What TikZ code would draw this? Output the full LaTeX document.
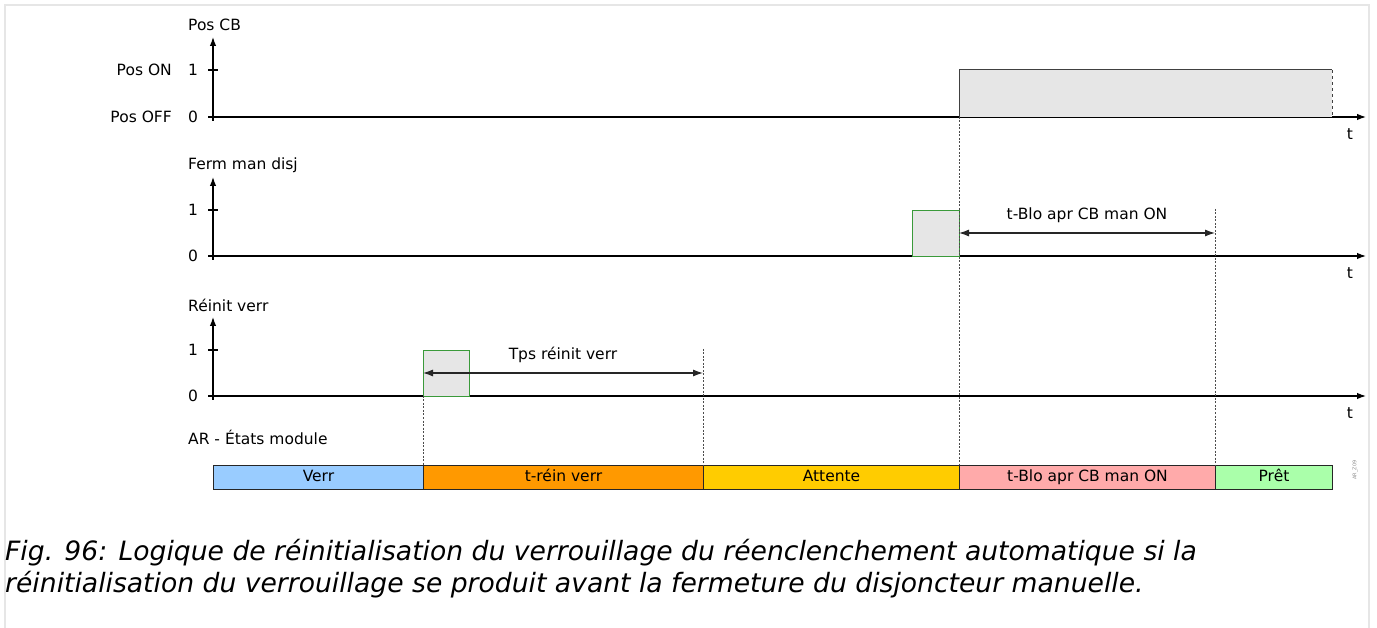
\documentclass[tikz,border=0pt]{standalone}
\usepackage{fontspec}
\setmainfont{DejaVu Sans}
\usetikzlibrary{arrows.meta}
\definecolor{framegray}{HTML}{E6E6E6}
\definecolor{fillgray}{HTML}{E6E6E6}
\definecolor{pulsegreen}{HTML}{3A9A3A}
\definecolor{cverr}{HTML}{99CCFF}
\definecolor{creinv}{HTML}{FF9900}
\definecolor{cattente}{HTML}{FFCC00}
\definecolor{cblo}{HTML}{FFAAAA}
\definecolor{cpret}{HTML}{AAFFAA}
\tikzset{
  axisline/.style={line width=1.2pt, draw=black, -{Latex[length=9pt,width=6.5pt]}},
  tickline/.style={line width=1.2pt, draw=black},
  lbl/.style={font=\fontsize{15.5}{18}\selectfont, inner sep=0pt},
  sigline/.style={line width=1pt, draw=black!75},
  pulsebox/.style={draw=pulsegreen, fill=fillgray, line width=0.9pt},
  guide/.style={dash pattern=on 2pt off 1.5pt, line width=0.6pt, draw=black!70},
  dimline/.style={line width=1.1pt, draw=black!85, {Latex[length=10pt,width=7pt]}-{Latex[length=10pt,width=7pt]}},
  statebox/.style={draw=black!85, line width=1pt, minimum height=24pt, inner sep=0pt, text height=11pt, text depth=3pt, font=\fontsize{15.5}{18}\selectfont, anchor=north west},
  caption/.style={font=\fontsize{26.6}{30}\selectfont\itshape, inner sep=0pt, anchor=base west}
}
\begin{document}
\begin{tikzpicture}[x=1pt,y=-1pt]
\useasboundingbox (0,0) rectangle (1377,628);
% frame
\draw[framegray, line width=2pt] (5,628) -- (5,5) -- (1369,5) -- (1369,628);

% ---------- Panel 1: Pos CB ----------
\coordinate (y1top) at (213,37);
\coordinate (x1end) at (1366,117);
\node[lbl, anchor=west] (l1) at (188,25) {Pos CB};
\node[lbl, anchor=east] (pon) at (172,70) {Pos ON};
\node[lbl, anchor=east] (poff) at (172,117) {Pos OFF};
\node[lbl] (p1one) at (193,70) {1};
\node[lbl] (p1zero) at (193,117) {0};
\draw[tickline] (208,70) -- (218,70);
\draw[axisline] (213,121) -- (y1top);
\draw[axisline] (208,117) -- (x1end);
\node[lbl] (t1) at (1350,134) {t};
\fill[fillgray] (959,117) rectangle (1332,70);
\draw[sigline] (959,117) -- (959,70) -- (1332,70);
\draw[sigline, dashed] (1332,70) -- (1332,117);

% ---------- Panel 2: Ferm man disj ----------
\coordinate (y2top) at (213,177);
\coordinate (x2end) at (1366,256);
\node[lbl, anchor=west] (l2) at (188,165) {Ferm man disj};
\node[lbl] (p2one) at (193,210) {1};
\node[lbl] (p2zero) at (193,256) {0};
\draw[tickline] (208,210) -- (218,210);
\draw[axisline] (213,260) -- (y2top);
\draw[axisline] (208,256) -- (x2end);
\node[lbl] (t2) at (1350,273) {t};
\draw[pulsebox] (912,256) rectangle (959,210);
\coordinate (d2a) at (959,233);
\coordinate (d2b) at (1215,233);
\draw[dimline] (d2a) -- (d2b);
\node[lbl] (d2lbl) at (1087,215) {t-Blo apr CB man ON};

% ---------- Panel 3: Réinit verr ----------
\coordinate (y3top) at (213,317);
\coordinate (x3end) at (1366,396);
\node[lbl, anchor=west] (l3) at (188,305) {Réinit verr};
\node[lbl] (p3one) at (193,350) {1};
\node[lbl] (p3zero) at (193,396) {0};
\draw[tickline] (208,350) -- (218,350);
\draw[axisline] (213,400) -- (y3top);
\draw[axisline] (208,396) -- (x3end);
\node[lbl] (t3) at (1350,413) {t};
\draw[pulsebox] (423,396) rectangle (469,350);
\coordinate (d3a) at (423,373);
\coordinate (d3b) at (703,373);
\draw[dimline] (d3a) -- (d3b);
\node[lbl] (d3lbl) at (563,355) {Tps réinit verr};

% ---------- States ----------
\node[lbl, anchor=west] (l4) at (188,437) {AR - États module};
\node[statebox, fill=cverr, minimum width=210pt] (s1) at (213,465) {Verr};
\node[statebox, fill=creinv, minimum width=280pt] (s2) at (423,465) {t-réin verr};
\node[statebox, fill=cattente, minimum width=256pt] (s3) at (703,465) {Attente};
\node[statebox, fill=cblo, minimum width=256pt] (s4) at (959,465) {t-Blo apr CB man ON};
\node[statebox, fill=cpret, minimum width=117pt] (s5) at (1215,465) {Prêt};

% guides
\draw[guide] (423,396) -- (s2.north west);
\draw[guide] (703,349) -- (s3.north west);
\draw[guide] (959,117) -- (s4.north west);
\draw[guide] (1215,209) -- (s5.north west);

% side id
\node[font=\fontsize{5}{6}\selectfont, text=black!45, rotate=90, inner sep=0pt] (sid) at (1355,470) {AR\_Z09};

% caption
\node[caption] (cap1) at (5,560) {Fig. 96: Logique de réinitialisation du verrouillage du réenclenchement automatique si la};
\node[caption] (cap2) at (5,592) {réinitialisation du verrouillage se produit avant la fermeture du disjoncteur manuelle.};
\end{tikzpicture}
\end{document}
